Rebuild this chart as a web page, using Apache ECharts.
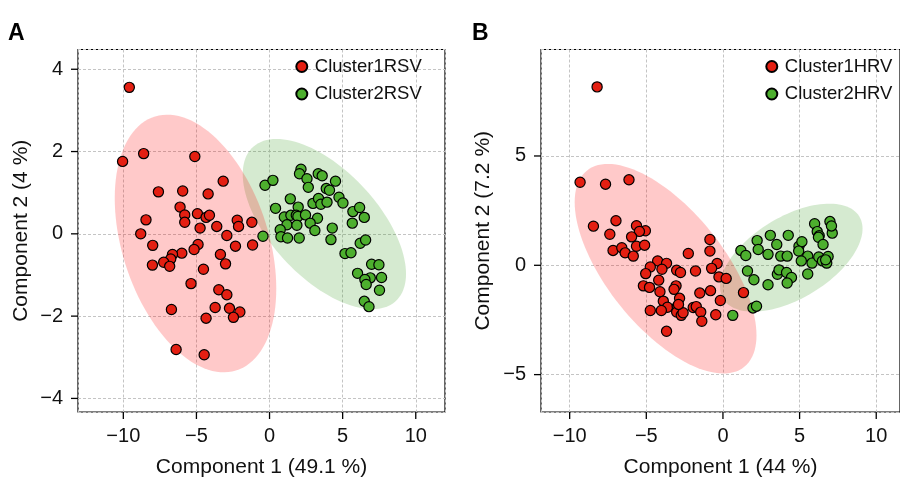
<!DOCTYPE html>
<html>
<head>
<meta charset="utf-8">
<title>PCA clusters RSV / HRV</title>
<script src="https://cdn.jsdelivr.net/npm/echarts@6/dist/echarts.min.js"></script>
<style>
    html, body { margin: 0; padding: 0; background: #fff; }
    #chart { width: 900px; height: 483px; }
</style>
</head>
<body>
<div id="chart"></div>
<script>
// Panel A (RSV) - component 1 / component 2 scores
var cluster1RSV = [
    [-9.59, 3.56], [-10.05, 1.76], [-8.61, 1.95], [-5.11, 1.88], [-3.17, 1.28], [-7.60, 1.02],
    [-5.94, 1.04], [-4.20, 0.97], [-6.12, 0.65], [-5.80, 0.46], [-5.80, 0.28], [-4.93, 0.49],
    [-4.34, 0.40], [-4.11, 0.45], [-8.45, 0.34], [-4.75, 0.14], [-3.61, 0.18], [-2.21, 0.33],
    [-2.12, 0.18], [-1.21, 0.28], [-2.92, -0.04], [-8.81, 0.00], [-7.99, -0.28], [-2.33, -0.30],
    [-1.16, -0.27], [-4.89, -0.26], [-5.16, -0.38], [-6.00, -0.47], [-6.64, -0.50], [-6.76, -0.61],
    [-7.24, -0.69], [-8.01, -0.76], [-6.83, -0.79], [-3.36, -0.50], [-3.01, -0.73], [-4.52, -0.86],
    [-5.37, -1.21], [-3.47, -1.36], [-2.92, -1.48], [-3.72, -1.79], [-2.74, -1.81], [-2.03, -1.90],
    [-2.47, -2.03], [-4.34, -2.05], [-6.71, -1.84], [-6.39, -2.81], [-4.47, -2.94]
];
var cluster2RSV = [
    [-0.31, 1.18], [0.23, 1.30], [2.15, 1.57], [2.05, 1.46], [2.56, 1.34], [2.65, 1.13],
    [3.33, 1.46], [3.60, 1.41], [4.51, 1.28], [3.88, 1.10], [4.10, 1.06], [1.42, 0.85],
    [0.41, 0.62], [1.96, 0.65], [2.97, 0.74], [3.35, 0.86], [3.51, 0.72], [3.93, 0.77],
    [4.75, 0.89], [5.02, 0.75], [5.70, 0.54], [6.16, 0.64], [6.48, 0.40], [5.66, 0.26],
    [1.01, 0.41], [1.46, 0.45], [1.83, 0.45], [1.94, 0.42], [2.46, 0.46], [3.28, 0.38],
    [2.78, 0.26], [3.10, 0.08], [1.19, 0.22], [1.87, 0.21], [0.73, 0.10], [0.78, -0.07],
    [1.23, -0.10], [2.03, -0.10], [-0.45, -0.06], [4.29, 0.14], [4.20, -0.14], [6.20, -0.23],
    [6.57, -0.15], [5.16, -0.48], [5.57, -0.46], [6.98, -0.74], [7.48, -0.75], [6.02, -0.96],
    [6.89, -1.07], [7.66, -1.06], [6.52, -1.11], [6.61, -1.23], [7.52, -1.37], [6.48, -1.64],
    [6.80, -1.77]
];

// Panel B (HRV)
var cluster1HRV = [
    [-8.21, 8.16], [-9.32, 3.80], [-7.66, 3.71], [-6.13, 3.91], [-8.45, 1.79], [-6.98, 2.04],
    [-7.38, 1.42], [-7.17, 0.68], [-6.60, 0.80], [-6.38, 0.57], [-5.85, 0.42], [-5.64, 1.81],
    [-5.06, 1.58], [-5.45, 1.55], [-5.96, 1.30], [-5.64, 0.87], [-5.11, 0.92], [-0.85, 1.18],
    [-0.85, 0.65], [-2.26, 0.54], [-4.26, 0.20], [-3.68, 0.09], [-4.74, -0.08], [-5.04, -0.38],
    [-3.98, -0.18], [-3.02, -0.23], [-2.77, -0.33], [-1.79, -0.26], [-0.38, 0.08], [-0.74, -0.14],
    [-0.26, -0.53], [0.21, -0.60], [-4.19, -0.68], [-5.19, -0.94], [-4.79, -1.01], [-3.06, -0.94],
    [-3.19, -1.10], [-4.11, -1.21], [-1.51, -1.27], [-0.81, -1.16], [1.34, -1.25], [-2.83, -1.51],
    [-3.89, -1.64], [-3.62, -1.92], [-0.17, -1.61], [-4.74, -2.07], [-4.02, -2.07], [-2.98, -1.89],
    [-3.02, -2.14], [-2.72, -2.29], [-2.60, -2.17], [-1.94, -1.93], [-1.74, -1.89], [-1.45, -2.14],
    [-1.38, -2.56], [-0.47, -2.26], [-3.68, -3.02], [-2.90, -1.79]
];
var cluster2HRV = [
    [0.64, -2.29], [1.17, 0.68], [1.49, 0.45], [2.23, 1.13], [2.30, 0.72], [1.60, -0.26],
    [2.02, -0.66], [1.96, -1.95], [2.19, -1.87], [2.94, -0.89], [3.09, 1.37], [2.94, 0.50],
    [3.51, 0.95], [3.77, 0.42], [3.55, -0.41], [3.66, -0.21], [4.26, 1.37], [4.19, 0.42],
    [4.15, -0.33], [4.47, -0.56], [4.19, -0.81], [4.96, 0.87], [5.15, 1.08], [4.94, 0.65],
    [5.53, 0.42], [5.11, 0.20], [5.53, -0.40], [5.81, 0.10], [5.98, 1.90], [6.15, 1.54],
    [6.28, 1.35], [6.23, 1.28], [6.53, 0.95], [6.25, 0.38], [6.49, 0.20], [6.77, 0.10],
    [6.98, 2.00], [7.13, 1.47], [7.08, 1.80], [6.86, 0.40], [6.70, 0.25]
];

// tick labels
var ticksA_x = [-10, -5, 0, 5, 10];
var ticksA_y = [-4, -2, 0, 2, 4];
var ticksB_x = [-10, -5, 0, 5, 10];
var ticksB_y = [-5, 0, 5];

var RED = '#E41F12';
var GREEN = '#4DAF2E';
var FONT = '"Liberation Sans", Arial, Helvetica, sans-serif';

// normal-theory 95% ellipse: mean + sqrt(chi2(level, 2)) * chol(cov)
function confEllipse(pts, level) {
    var n = pts.length;
    var mx = 0, my = 0, i;
    for (i = 0; i < n; i++) { mx += pts[i][0]; my += pts[i][1]; }
    mx /= n; my /= n;
    var sxx = 0, syy = 0, sxy = 0;
    for (i = 0; i < n; i++) {
        var dx = pts[i][0] - mx, dy = pts[i][1] - my;
        sxx += dx * dx; syy += dy * dy; sxy += dx * dy;
    }
    sxx /= (n - 1); syy /= (n - 1); sxy /= (n - 1);
    var r = Math.sqrt(-2 * Math.log(1 - level));
    var a = Math.sqrt(sxx), b = sxy / a, c = Math.sqrt(syy - b * b);
    var out = [];
    for (var k = 0; k <= 120; k++) {
        var t = 2 * Math.PI * k / 120;
        var u = r * Math.cos(t), v = r * Math.sin(t);
        out.push([mx + a * u, my + b * u + c * v]);
    }
    return out;
}

function ellipseSeries(pts, fill, idx) {
    var shape = confEllipse(pts, 0.95);
    return {
        type: 'custom',
        xAxisIndex: idx,
        yAxisIndex: idx,
        silent: true,
        z: 1,
        clip: true,
        data: [0],
        renderItem: function (params, api) {
            return {
                type: 'polygon',
                shape: { points: shape.map(function (p) { return api.coord(p); }) },
                style: { fill: fill }
            };
        }
    };
}

// outward tick marks, placed through the axis scale at each tick value
function tickSeries(values, idx, isX) {
    return {
        type: 'custom',
        xAxisIndex: idx,
        yAxisIndex: idx,
        silent: true,
        clip: false,
        z: 5,
        data: values.map(function (v) { return isX ? [v, 0] : [0, v]; }),
        renderItem: function (params, api) {
            var cs = params.coordSys;
            var p = api.coord([api.value(0), api.value(1)]);
            var shape = isX
                ? { x1: p[0], y1: cs.y + cs.height, x2: p[0], y2: cs.y + cs.height + 7 }
                : { x1: cs.x, y1: p[1], x2: cs.x - 7, y2: p[1] };
            return { type: 'line', shape: shape, style: { stroke: '#000', lineWidth: 1.3 } };
        }
    };
}

function pointSeries(name, pts, color, idx) {
    return {
        name: name,
        type: 'scatter',
        xAxisIndex: idx,
        yAxisIndex: idx,
        z: 3,
        symbolSize: 10.2,
        itemStyle: { color: color, borderColor: '#000', borderWidth: 1.2, opacity: 1 },
        data: pts
    };
}

function minus(v) {
    return String(v).replace('-', '\u2212');
}

// labelled axis: labels, name and dashed grid lines
function valueAxis(grid, min, max, ticks, name, gap, isX) {
    return {
        gridIndex: grid,
        type: 'value',
        min: min,
        max: max,
        name: name,
        nameLocation: 'middle',
        nameGap: gap,
        nameTextStyle: { fontSize: 21, color: '#111', fontFamily: FONT },
        axisLine: { show: false, onZero: false },
        axisTick: { show: false },
        axisLabel: { customValues: ticks, margin: isX ? 14 : 15, fontSize: 20, color: '#111', fontFamily: FONT, formatter: minus },
        splitLine: { show: true, customValues: ticks, lineStyle: { color: '#c4c4c4', type: [3, 2], width: 1 } }
    };
}

var myChart = echarts.init(document.getElementById('chart'), null, { renderer: 'canvas' });

var option = {
    animation: false,
    textStyle: { fontFamily: FONT },
    grid: [
        { left: 78, top: 49.5, width: 367, height: 367, show: true, borderColor: '#000', borderWidth: 1.2 },
        { left: 541, top: 49.5, width: 367, height: 366.5, show: true, borderColor: '#000', borderWidth: 1.2 }
    ],
    xAxis: [
        valueAxis(0, -13.1, 12.0, ticksA_x, 'Component 1 (49.1 %)', 45, true),
        valueAxis(1, -11.87, 11.55, ticksB_x, 'Component 1 (44 %)', 45, true)
    ],
    yAxis: [
        valueAxis(0, -4.33, 4.48, ticksA_y, 'Component 2 (4 %)', 46, false),
        Object.assign(valueAxis(1, -6.71, 9.87, ticksB_y, 'Component 2 (7.2 %)', 47, false), { splitNumber: 3 })
    ],
    legend: [
        {
            data: ['Cluster1RSV', 'Cluster2RSV'],
            orient: 'vertical', left: 295.3, top: 57, padding: 0,
            itemWidth: 16, itemHeight: 11, itemGap: 8.5, icon: 'circle',
            textStyle: { fontSize: 18.5, color: '#111', fontFamily: FONT }
        },
        {
            data: ['Cluster1HRV', 'Cluster2HRV'],
            orient: 'vertical', left: 765.3, top: 57, padding: 0,
            itemWidth: 16, itemHeight: 11, itemGap: 8.5, icon: 'circle',
            textStyle: { fontSize: 18.5, color: '#111', fontFamily: FONT }
        }
    ],
    graphic: [
        { type: 'text', left: 8, top: 22, style: { text: 'A', font: 'bold 23px ' + FONT, fill: '#000' } },
        { type: 'text', left: 472, top: 22, style: { text: 'B', font: 'bold 23px ' + FONT, fill: '#000' } }
    ],
    series: [
        ellipseSeries(cluster2RSV, 'rgba(45,150,20,0.2)', 0),
        ellipseSeries(cluster1RSV, 'rgba(255,0,0,0.21)', 0),
        pointSeries('Cluster1RSV', cluster1RSV, RED, 0),
        pointSeries('Cluster2RSV', cluster2RSV, GREEN, 0),
        ellipseSeries(cluster2HRV, 'rgba(45,150,20,0.2)', 1),
        ellipseSeries(cluster1HRV, 'rgba(255,0,0,0.21)', 1),
        pointSeries('Cluster1HRV', cluster1HRV, RED, 1),
        pointSeries('Cluster2HRV', cluster2HRV, GREEN, 1),
        tickSeries(ticksA_x, 0, true),
        tickSeries(ticksA_y, 0, false),
        tickSeries(ticksB_x, 1, true),
        tickSeries(ticksB_y, 1, false)
    ]
};

myChart.setOption(option, true);
</script>
</body>
</html>
